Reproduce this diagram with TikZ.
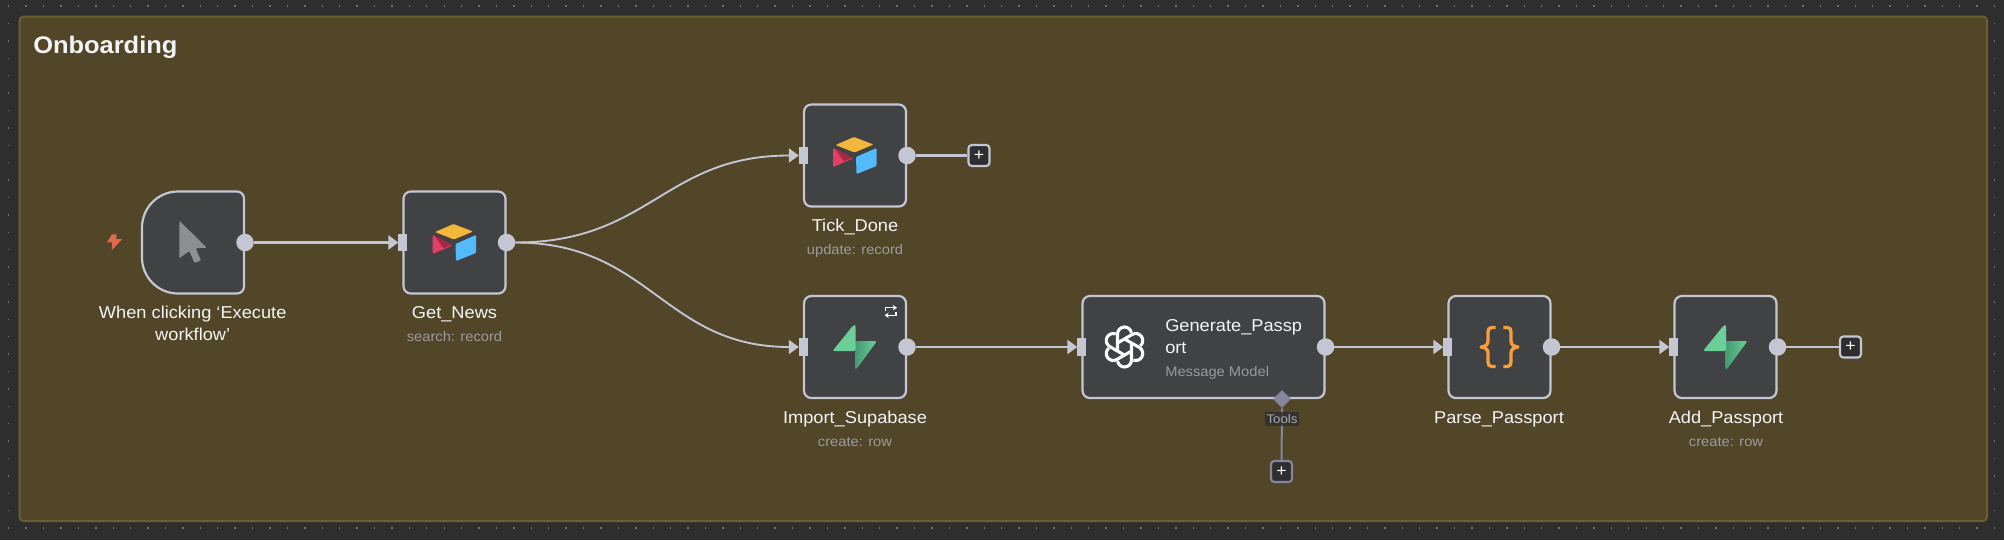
\documentclass[tikz,border=0pt]{standalone}
\usepackage{fontspec}
\setmainfont[FakeStretch=1.06]{Liberation Sans}
\usetikzlibrary{arrows.meta,shapes.geometric,calc}
\definecolor{canvas}{HTML}{2E2E2E}
\definecolor{griddot}{HTML}{707070}
\definecolor{groupfill}{HTML}{514628}
\definecolor{groupedge}{HTML}{6B5F2E}
\definecolor{card}{HTML}{414244}
\definecolor{edge}{HTML}{C4C7D3}
\definecolor{titletext}{HTML}{F4F4F6}
\definecolor{subtext}{HTML}{9B9B9F}
\definecolor{toolc}{HTML}{85869C}
\definecolor{cursorc}{HTML}{8E8F93}
\definecolor{boltc}{HTML}{E0694E}
\definecolor{aty}{HTML}{F3B73C}
\definecolor{atb}{HTML}{53BBFB}
\definecolor{atr}{HTML}{E53E66}
\definecolor{atd}{HTML}{A62A45}
\definecolor{sbl}{HTML}{6CCF97}
\definecolor{sbd}{HTML}{469A72}
\definecolor{bracec}{HTML}{F79E3B}
\def\px{0.75pt}
\tikzset{
  cardbox/.style={draw=edge,fill=card,line width=1.65pt,rounded corners=5.5pt,inner sep=0pt,outer sep=0pt,minimum width=102*\px,minimum height=102*\px},
  outport/.style={circle,fill=edge,inner sep=0pt,outer sep=0pt,minimum size=17.5*\px},
  inport/.style={rectangle,fill=edge,inner sep=0pt,outer sep=0pt,minimum width=9*\px,minimum height=17.5*\px},
  conn/.style={draw=edge,line width=1.75pt,-{Triangle[length=7.5pt,width=10.5pt]}},
  curveconn/.style={draw=edge,line width=1.4pt,-{Triangle[length=7.5pt,width=10.5pt]}},
  stub/.style={draw=edge,line width=1.7pt},
  plusbox/.style={draw=edge,fill=canvas,line width=1.6pt,rounded corners=2.5pt,inner sep=0pt,minimum width=21*\px,minimum height=21*\px,text=white,font=\fontsize{12.5}{12.5}\selectfont},
  title/.style={anchor=base,inner sep=0pt,text=titletext,font=\fontsize{12.9}{16.5}\selectfont,align=center},
  subtitle/.style={anchor=base,inner sep=0pt,text=subtext,font=\fontsize{10.4}{12}\selectfont},
}
\newcommand{\airtableicon}[1]{%
  \begin{scope}[shift={(#1)}]
    \fill[aty,rounded corners=0.8pt] (-19.5,-10.5) -- (-1,-18.5) -- (18.5,-11) -- (-0.5,-3) -- cycle;
    \fill[atb,rounded corners=0.8pt] (1,1.5) -- (21.5,-7.5) -- (21.5,10.5) -- (1.5,18.5) -- cycle;
    \fill[atr,rounded corners=0.8pt] (-22,-7.5) -- (-2,3) -- (-22,11.5) -- cycle;
    \fill[atd] (-20.5,-7.5) -- (-2.5,2.2) -- (-11,6) -- cycle;
  \end{scope}}
\newcommand{\supabaseicon}[1]{%
  \begin{scope}[shift={(#1)}]
    \shade[left color=sbd,right color=sbl,rounded corners=1.5pt] (0,-6) -- (22,-6) -- (1.5,22) -- (0,22) -- cycle;
    \fill[sbl,rounded corners=1.5pt] (-1.5,-22) -- (0.5,-22) -- (0.5,4) -- (-22.5,4) -- cycle;
  \end{scope}}
\newcommand{\knoticon}[1]{%
  \begin{scope}[shift={(#1)}]
    \foreach \k in {0,60,...,300}{
      \draw[white,line width=2.3pt,rotate=\k] (-7,4.04) -- (-7,-13) arc[start angle=180,end angle=350,radius=7];
    }
  \end{scope}}
\newcommand{\curlyhalf}{%
  (8.2,-19.5) -- (4.5,-19.5) .. controls (1.5,-19.5) and (0.5,-18) .. (0.5,-15)
  -- (0.5,-6) .. controls (0.5,-2.5) and (-2,-0.5) .. (-6.5,0)
  .. controls (-2,0.5) and (0.5,2.5) .. (0.5,6) -- (0.5,15)
  .. controls (0.5,18) and (1.5,19.5) .. (4.5,19.5) -- (8.2,19.5)}
\begin{document}
\begin{tikzpicture}[x=0.75pt,y=-0.75pt]
\useasboundingbox (0,0) rectangle (2004,540);
\fill[canvas] (0,0) rectangle (2004,540);
% canvas dots
\foreach \i in {0,...,114}{
  \fill[griddot] ({8.7+17.42*\i-0.7},5.3) rectangle ++(1.4,1.4);
  \fill[griddot] ({8.7+17.42*\i-0.7},527.3) rectangle ++(1.4,1.4);
}
\foreach \j in {1,...,29}{
  \fill[griddot] (8,{6+17.4*\j-0.7}) rectangle ++(1.4,1.4);
  \fill[griddot] (1993.6,{6+17.4*\j-0.7}) rectangle ++(1.4,1.4);
}
% group
\draw[groupedge,fill=groupfill,line width=1.5pt,rounded corners=3pt] (19.5,16.5) rectangle (1987,521);
\node[anchor=base west,inner sep=0pt,text=titletext,font=\fontsize{18}{22}\bfseries\selectfont] (grouptitle) at (33,53) {Onboarding};

% nodes
\node[minimum width=102*\px,minimum height=102*\px,inner sep=0pt,outer sep=0pt] (trig) at (193,242.5) {};
\draw[draw=edge,fill=card,line width=1.65pt]
  ([xshift=27pt]trig.north west) arc[start angle=270,end angle=180,radius=36]
  -- ([yshift=27pt]trig.south west) arc[start angle=180,end angle=90,radius=36]
  -- ([xshift=-5.25pt]trig.south east) arc[start angle=90,end angle=0,radius=7]
  -- ([yshift=-5.25pt]trig.north east) arc[start angle=0,end angle=-90,radius=7]
  -- cycle;
\node[cardbox] (get) at (454.5,242.5) {};
\node[cardbox] (tick) at (855,155.5) {};
\node[cardbox] (imp) at (855,347) {};
\node[cardbox,minimum width=242*\px] (gen) at (1203.5,347) {};
\node[cardbox] (parse) at (1499.5,347) {};
\node[cardbox] (add) at (1725.5,347) {};

% icons
\fill[cursorc,rounded corners=0.7pt] (179.3,220.7) -- (179.3,258.3) -- (189.3,251) -- (194.5,263) -- (201,260.5) -- (195.7,248.3) -- (206.7,247.7) -- cycle;
\airtableicon{get.center}
\airtableicon{tick.center}
\supabaseicon{imp.center}
\supabaseicon{add.center}
\knoticon{1124.5,347}
\foreach \s/\xs in {-1/1,1/-1}{
  \begin{scope}[shift={($(parse.center)+(\s*12,0)$)},xscale=\xs]
    \draw[bracec,line width=2.5pt,line join=round] \curlyhalf;
  \end{scope}
}
% trigger bolt
\fill[boltc] (116.7,234.3) -- (112,234.3) -- (107,242.3) -- (112.3,242.3) -- (111.7,250.3) -- (122.2,239) -- (116,239) -- cycle;
% loop marker
\draw[white,line width=1.1pt,-{Stealth[length=3.2pt,width=4pt]}] (885.5,311) -- (885.5,307.7) -- (897,307.7);
\draw[white,line width=1.1pt,-{Stealth[length=3.2pt,width=4pt]}] (896,312) -- (896,315.3) -- (884.5,315.3);

% ports
\node[outport] (trig-out) at ([xshift=0.75pt]trig.east) {};
\node[outport] (get-out) at ([xshift=0.75pt]get.east) {};
\node[outport] (tick-out) at ([xshift=0.75pt]tick.east) {};
\node[outport] (imp-out) at ([xshift=0.75pt]imp.east) {};
\node[outport] (gen-out) at ([xshift=0.75pt]gen.east) {};
\node[outport] (parse-out) at ([xshift=0.75pt]parse.east) {};
\node[outport] (add-out) at ([xshift=0.75pt]add.east) {};
\node[inport] (get-in) at ([xshift=-0.5pt]get.west) {};
\node[inport] (tick-in) at ([xshift=-0.5pt]tick.west) {};
\node[inport] (imp-in) at ([xshift=-0.5pt]imp.west) {};
\node[inport] (gen-in) at ([xshift=-0.5pt]gen.west) {};
\node[inport] (parse-in) at ([xshift=-0.5pt]parse.west) {};
\node[inport] (add-in) at ([xshift=-0.5pt]add.west) {};
\node[diamond,fill=toolc,inner sep=0pt,minimum width=18*\px,minimum height=18*\px] (tools-port) at (1282,399) {};

% plus nodes
\node[plusbox] (tick-plus) at (979,155.5) {+};
\node[plusbox] (add-plus) at (1850.5,347) {+};
\node[plusbox,draw=toolc] (tools-plus) at (1281.5,471.5) {+};

% connectors
\draw[conn] (trig-out.east) -- (get-in.west);
\draw[curveconn] (get-out.east) .. controls +(135,0) and +(-135,0) .. (tick-in.west);
\draw[curveconn] (get-out.east) .. controls +(135,0) and +(-135,0) .. (imp-in.west);
\draw[conn] (imp-out.east) -- (gen-in.west);
\draw[conn] (gen-out.east) -- (parse-in.west);
\draw[conn] (parse-out.east) -- (add-in.west);
\draw[stub] (tick-out.east) -- (tick-plus.west);
\draw[stub] (add-out.east) -- (add-plus.west);
\draw[draw=toolc,line width=1.5pt] (tools-port.south) -- (tools-plus.north);
\node[fill=canvas,fill opacity=0.8,text opacity=1,text=toolc!70!white,inner sep=0pt,minimum width=34*\px,minimum height=14*\px,font=\fontsize{9.4}{10}\selectfont] (tools-label) at (1282,419) {Tools};

% labels
\node[title] (trig-l) at (192.7,340) {When clicking ‘Execute\\workflow’};
\node[title] (get-l) at (454.5,318) {Get\_News};
\node[subtitle] (get-s) at (454.5,341) {search: record};
\node[title] (tick-l) at (855,231) {Tick\_Done};
\node[subtitle] (tick-s) at (855,254) {update: record};
\node[title] (imp-l) at (855,423) {Import\_Supabase};
\node[subtitle] (imp-s) at (855,446) {create: row};
\node[title,anchor=base west,align=left] (gen-l) at (1165,353) {Generate\_Passp\\ort};
\node[subtitle,anchor=base west,text=subtext!90!toolc] (gen-s) at (1165,376) {Message Model};
\node[title] (parse-l) at (1499,423) {Parse\_Passport};
\node[title] (add-l) at (1726,423) {Add\_Passport};
\node[subtitle] (add-s) at (1726,446) {create: row};
\end{tikzpicture}
\end{document}
